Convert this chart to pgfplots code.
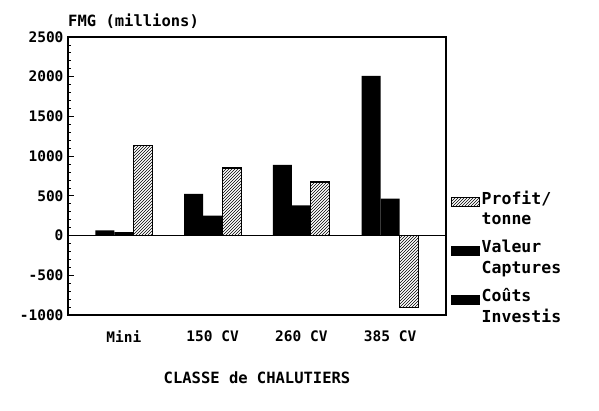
\documentclass[border=0pt]{standalone}
\usepackage{pgfplots}
\pgfplotsset{compat=1.18}
\usepackage{fontspec}
\setmainfont{DejaVu Sans Mono}
\usetikzlibrary{patterns}
\begin{document}
\begin{tikzpicture}
\path[use as bounding box] (-68pt,-95pt) rectangle (531pt,315pt);
\begin{axis}[
  scale only axis, width=378pt, height=278pt,
  xmin=-0.63, xmax=3.63, ymin=-1000, ymax=2500,
  ybar=0pt, bar width=19pt,
  xtick={0,1,2,3}, xticklabels={Mini,150 CV,260 CV,385 CV},
  x tick style={draw=none},
  ytick={-1000,-500,...,2500}, minor y tick num=4,
  ytick pos=left,
  major tick length=6pt, minor tick length=3pt,
  y tick style={black, line width=1.2pt},
  minor y tick style={black, line width=0.8pt},
  axis line style={line width=2pt},
  tick label style={font=\bfseries\fontsize{14.5}{14.5}\selectfont},
  yticklabel style={xshift=-1pt},
  xticklabel style={yshift=-6pt},
  /pgf/number format/assume math mode=true,
  /pgf/number format/1000 sep={},
  title={FMG (millions)},
  title style={at={(0,1)}, anchor=south west, inner sep=2pt, xshift=-2pt, font=\bfseries\fontsize{15.5}{15.5}\selectfont},
  xlabel={CLASSE de CHALUTIERS},
  xlabel style={font=\bfseries\fontsize{15.5}{15.5}\selectfont, yshift=-23pt},
  legend style={at={(1.013,0.455)}, anchor=north west, draw=none, fill=none,
    font=\bfseries\fontsize{16.5}{20.5}\selectfont,
    cells={align=left, anchor=west}, row sep=10pt, inner sep=0pt,
    nodes={xshift=2pt}},
  legend image code/.code={\path[#1, draw=black, line width=0.6pt] (0pt,2pt) rectangle (28pt,11pt);},
  reverse legend,
  extra y ticks={0}, extra y tick labels={},
  extra y tick style={grid=major, major grid style={black, line width=1pt}, tick style={draw=none}},
]
\addplot[fill=black, draw=none] coordinates {(0,65) (1,525) (2,890) (3,2010)};
\addlegendentry{Co\^uts\\Investis}
\addplot[fill=black, draw=none] coordinates {(0,45) (1,250) (2,380) (3,465)};
\addlegendentry{Valeur\\Captures}
\addplot[pattern=north east lines, draw=black, line width=1.2pt] coordinates {(0,1130) (1,850) (2,675) (3,-905)};
\addlegendentry{Profit/\\tonne}
\end{axis}
\end{tikzpicture}
\end{document}
